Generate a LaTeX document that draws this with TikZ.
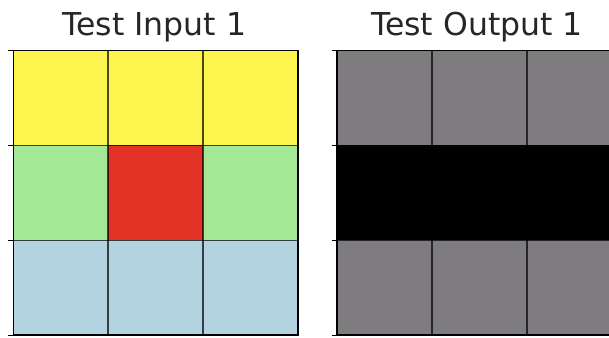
\documentclass[tikz,border=0pt]{standalone}
\usepackage{fontspec}
\setmainfont{DejaVu Sans}
\definecolor{cyel}{HTML}{FDF54D}
\definecolor{cgrn}{HTML}{A3E895}
\definecolor{cred}{HTML}{E33226}
\definecolor{cblu}{HTML}{B3D3E0}
\definecolor{cgry}{HTML}{7F7C80}
\tikzset{
  gridline/.style={draw=black, draw opacity=0.7, line width=1.6pt},
  frameline/.style={draw=black, line width=1.4pt},
  tickline/.style={draw=black, line width=1.1pt},
  titletext/.style={font=\fontsize{31.5}{36}\selectfont, text=black!85, inner sep=0pt, anchor=base},
}
\begin{document}
\begin{tikzpicture}[x=1pt,y=-1pt]
\useasboundingbox (0,0) rectangle (609,337);
\clip (0,0) rectangle (609,337);
\fill[white] (0,0) rectangle (609,337);
\def\cs{94.85}
% titles
\node[titletext] (t1) at (154.5,35.7) {Test Input 1};
\node[titletext] (t2) at (477,35.7) {Test Output 1};
% left grid
\begin{scope}[shift={(13.3,50.6)}]
  \foreach \c [count=\i from 0] in {cyel,cyel,cyel} \fill[\c] (\i*\cs,0) rectangle ++(\cs,\cs);
  \foreach \c [count=\i from 0] in {cgrn,cred,cgrn} \fill[\c] (\i*\cs,\cs) rectangle ++(\cs,\cs);
  \foreach \c [count=\i from 0] in {cblu,cblu,cblu} \fill[\c] (\i*\cs,2*\cs) rectangle ++(\cs,\cs);
  \foreach \k in {1,2} {
    \draw[gridline] (\k*\cs,0) -- (\k*\cs,3*\cs);
    \draw[gridline] (0,\k*\cs) -- (3*\cs,\k*\cs);
  }
  \draw[frameline] (0,0) rectangle (3*\cs,3*\cs);
  \foreach \k in {0,1,2,3} \draw[tickline] (-5.5,\k*\cs) -- (0,\k*\cs);
\end{scope}
% right grid
\begin{scope}[shift={(337,50.6)}]
  \foreach \i in {0,1,2} {
    \fill[cgry] (\i*\cs,0) rectangle ++(\cs,\cs);
    \fill[black] (\i*\cs,\cs) rectangle ++(\cs,\cs);
    \fill[cgry] (\i*\cs,2*\cs) rectangle ++(\cs,\cs);
  }
  \foreach \k in {1,2} {
    \draw[gridline] (\k*\cs,0) -- (\k*\cs,3*\cs);
    \draw[gridline] (0,\k*\cs) -- (3*\cs,\k*\cs);
  }
  \draw[frameline] (0,0) rectangle (3*\cs,3*\cs);
  \foreach \k in {0,1,2,3} \draw[tickline] (-5.5,\k*\cs) -- (0,\k*\cs);
\end{scope}
\end{tikzpicture}
\end{document}
